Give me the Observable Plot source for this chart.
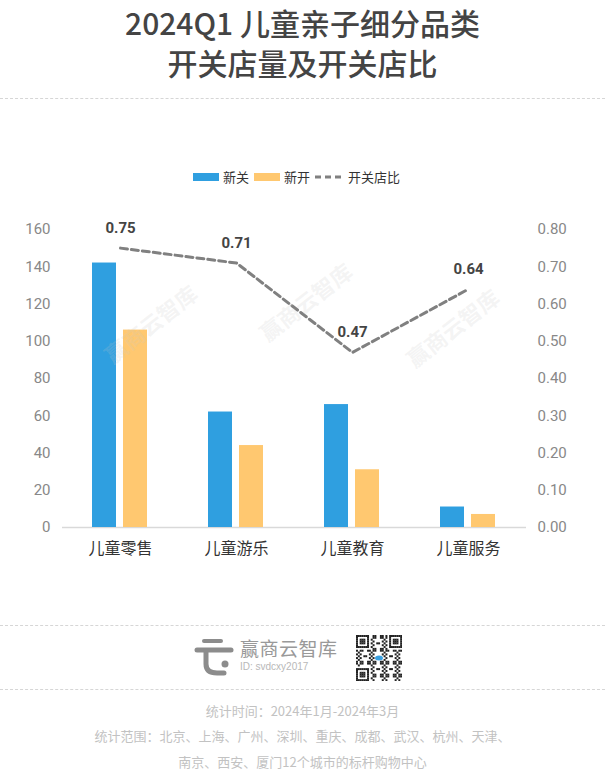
<!DOCTYPE html>
<html><head><meta charset="utf-8">
<script src="https://cdn.jsdelivr.net/npm/d3@7"></script>
<script src="https://cdn.jsdelivr.net/npm/@observablehq/plot@0.6"></script>
<style>
body{margin:0;background:#fff;width:605px;height:778px;position:relative;overflow:hidden;font-family:"Noto Sans CJK SC","Noto Sans",sans-serif;}
.abs{position:absolute;}
#title{left:0;width:605px;top:2px;text-align:center;font-size:30px;line-height:40px;color:#444;font-weight:500;}
.dash{left:0;width:605px;height:0;border-top:1px dashed #d6d6d6;}
#legend{top:168px;left:193px;font-size:13px;color:#333;display:flex;align-items:center;height:17px;white-space:nowrap;}
#legend .sw{width:26px;height:8px;display:inline-block;margin-right:4px;}
#legend span.t{margin-right:5px;line-height:17px;}
#chart{left:0;top:190px;}
.wm{font-size:22px;font-weight:bold;color:rgba(200,200,200,0.2);transform:rotate(-38deg);white-space:nowrap;transform-origin:center;}
.foot{left:0;width:605px;text-align:center;font-size:13px;color:#c2c2c2;line-height:18px;}
</style>
</head><body>
<div id="title" class="abs"></div>
<div class="abs dash" style="top:98px"></div>
<div id="legend" class="abs"></div>
<div id="chart" class="abs"></div>
<div class="abs dash" style="top:625px"></div>
<div class="abs dash" style="top:689px"></div>
<svg class="abs" style="left:193px;top:636px" width="42" height="42" viewBox="0 0 42 42">
  <g stroke="#8c8c8c" stroke-linecap="round" fill="none">
    <line x1="11" y1="5" x2="28" y2="5" stroke-width="4"/>
    <line x1="4" y1="14" x2="38" y2="14" stroke-width="5"/>
    <path d="M13 15 L13 28 Q13 37 24 37 L31 37" stroke-width="5"/>
  </g>
  <circle cx="32" cy="28" r="3.5" fill="#8c8c8c"/>
</svg>
<div class="abs" style="left:240px;top:636px;font-size:19px;line-height:24px;color:#999;letter-spacing:0.5px">赢商云智库</div>
<div class="abs" style="left:240px;top:661px;font-size:10px;line-height:12px;color:#b8b8b8;font-family:'Liberation Sans',Arial,sans-serif">ID: svdcxy2017</div>
<svg id="qr" class="abs" style="left:356px;top:635px" width="46" height="46"></svg>
<div class="abs foot" style="top:702px">统计时间：2024年1月-2024年3月</div>
<div class="abs foot" style="top:727px">统计范围：北京、上海、广州、深圳、重庆、成都、武汉、杭州、天津、</div>
<div class="abs foot" style="top:753px">南京、西安、厦门12个城市的标杆购物中心</div>
<script>
// ---- data ----
const titleLines = ["2024Q1 儿童亲子细分品类", "开关店量及开关店比"];
const categories = ["儿童零售", "儿童游乐", "儿童教育", "儿童服务"];
const closedStores = [142, 62, 66, 11];   // 新关
const openedStores = [106, 44, 31, 7];    // 新开
const openCloseRatio = [0.75, 0.71, 0.47, 0.64]; // 开关店比
const seriesNames = ["新关", "新开", "开关店比"];
const leftTicks = [0, 20, 40, 60, 80, 100, 120, 140, 160];
const rightTicks = [0, 0.1, 0.2, 0.3, 0.4, 0.5, 0.6, 0.7, 0.8];

const colors = {closed: "#2f9fe0", opened: "#ffc870", ratio: "#808080"};

document.getElementById("title").innerHTML = titleLines.join("<br>");

// legend
const lg = document.getElementById("legend");
lg.innerHTML =
  `<span class="sw" style="background:${colors.closed}"></span><span class="t">${seriesNames[0]}</span>` +
  `<span class="sw" style="background:${colors.opened}"></span><span class="t">${seriesNames[1]}</span>` +
  `<svg width="30" height="8" style="margin-right:3px"><line x1="0" y1="4" x2="30" y2="4" stroke="${colors.ratio}" stroke-width="3" stroke-dasharray="6,4"/></svg><span class="t">${seriesNames[2]}</span>`;

// chart
const rows = categories.map((c, i) => ({cat: c, closed: closedStores[i], opened: openedStores[i], ratio: openCloseRatio[i]}));
const K = leftTicks[leftTicks.length - 1] / rightTicks[rightTicks.length - 1]; // right-axis to left-axis factor

const chart = Plot.plot({
  width: 605, height: 380,
  marginTop: 39, marginBottom: 43, marginLeft: 62, marginRight: 79,
  style: {background: "transparent", fontFamily: "Roboto, 'Noto Sans', sans-serif", overflow: "visible"},
  x: {domain: categories, padding: 0, axis: null},
  y: {domain: [0, 160], axis: null},
  marks: [
    Plot.ruleY([0], {stroke: "#d9d9d9", strokeWidth: 1.5}),
    Plot.barY(rows, {x: "cat", y: "closed", fill: colors.closed, insetLeft: 30, insetRight: 62}),
    Plot.barY(rows, {x: "cat", y: "opened", fill: colors.opened, insetLeft: 61, insetRight: 31}),
    Plot.lineY(rows, {x: "cat", y: d => d.ratio * K, stroke: colors.ratio, strokeWidth: 3, strokeDasharray: "7,4"}),
    Plot.text(rows, {x: "cat", y: d => d.ratio * K, text: d => d.ratio.toFixed(2), dy: -20, fontWeight: "bold", fontSize: 15, fill: "#444"}),
    Plot.axisY(leftTicks, {anchor: "left", tickSize: 0, tickPadding: 12, fontSize: 15, color: "#888", label: null}),
    Plot.axisY(rightTicks.map(r => r * K), {anchor: "right", tickSize: 0, tickPadding: 11, fontSize: 15, color: "#888", label: null, tickFormat: d => (d / K).toFixed(2)}),
    Plot.axisX({tickSize: 0, tickPadding: 15, fontSize: 16, color: "#333", label: null, fontFamily: "'Noto Sans CJK SC', sans-serif"})
  ]
});
document.getElementById("chart").appendChild(chart);

// watermarks
[[150, 322], [305, 300], [452, 326]].forEach(([cx, cy]) => {
  const w = document.createElement("div");
  w.className = "abs wm";
  w.textContent = "赢商云智库";
  w.style.left = (cx - 55) + "px";
  w.style.top = (cy - 15) + "px";
  document.body.appendChild(w);
});

// decorative QR-like block
const qr = d3.select("#qr");
const n = 25, s = 46 / n;
const f = (a, b) => { const m = Math.max(Math.abs(a - 3), Math.abs(b - 3)); return m === 3 || m <= 1; };
for (let i = 0; i < n; i++) for (let j = 0; j < n; j++) {
  let on;
  if (i < 7 && j < 7) on = f(i, j);
  else if (i >= n - 7 && j < 7) on = f(i - (n - 7), j);
  else if (i < 7 && j >= n - 7) on = f(i, j - (n - 7));
  else if ((i === 7 && (j < 8 || j >= n - 8)) || (j === 7 && (i < 8 || i >= n - 8)) || (i === n - 8 && j < 8) || (j === n - 8 && i < 8)) on = false;
  else if (Math.abs(i - 12) <= 2 && Math.abs(j - 12) <= 1) on = false;
  else on = ((i * i * 3 + j * j * 5 + i * j * 7 + i + 2 * j) % 7) < 3;
  if (on) qr.append("rect").attr("x", i * s).attr("y", j * s).attr("width", s + 0.15).attr("height", s + 0.15).attr("fill", "#222");
}
qr.append("ellipse").attr("cx", 23).attr("cy", 23).attr("rx", 4).attr("ry", 2.5).attr("fill", "#3aa0e0");
</script>
</body></html>
